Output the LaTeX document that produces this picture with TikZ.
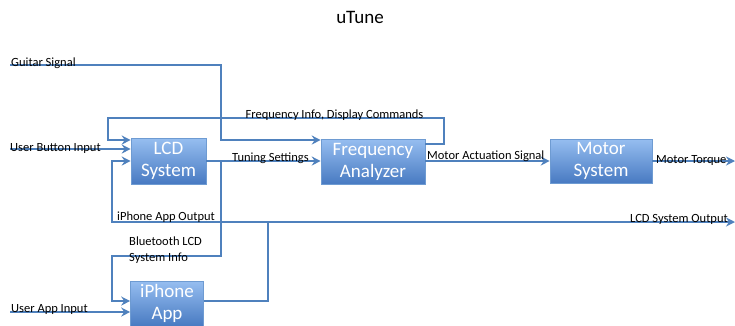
\documentclass[tikz,border=0pt]{standalone}
\usepackage{fontspec}
\setmainfont{Carlito}
\usetikzlibrary{arrows.meta,calc}
\definecolor{lineblue}{RGB}{79,129,189}
\definecolor{boxtop}{RGB}{150,190,240}
\definecolor{boxbot}{RGB}{72,122,194}
\definecolor{boxedge}{RGB}{110,155,210}
\tikzset{
  blk/.style={rectangle, draw=boxedge, line width=0.6pt, top color=boxtop, bottom color=boxbot,
    text=white, font=\fontsize{19}{22}\selectfont, align=center, inner sep=0pt},
  conn/.style={draw=lineblue, line width=1.8pt},
  arr/.style={conn, -{Stealth[length=9pt,width=9pt,inset=3pt]}},
  lbl/.style={font=\fontsize{12.5}{16}\selectfont, inner sep=0pt, text=black}
}
\begin{document}
\begin{tikzpicture}[x=1pt,y=-1pt]
\useasboundingbox (0,0) rectangle (735,325);
\node[font=\fontsize{19}{22}\selectfont] (title) at (360,17) {uTune};
% blocks
\node[blk, minimum width=75pt, minimum height=46pt] (lcd) at (168.5,161) {LCD\\System};
\node[blk, minimum width=104pt, minimum height=45pt] (fa) at (373,161.5) {Frequency\\Analyzer};
\node[blk, minimum width=102pt, minimum height=44pt] (motor) at (601,161) {Motor\\System};
\node[blk, minimum width=73pt, minimum height=45pt] (iphone) at (167,303.5) {iPhone\\App};
% coordinates
\coordinate (gin) at (10,65);
\coordinate (gc) at (221,140);
\coordinate (fy) at (0,144);
\coordinate (fr) at (444,118);
\coordinate (fl) at (108,140);
\coordinate (ubi) at (10,149);
\coordinate (hj) at (268,222);
\coordinate (hl) at (112,161);
\coordinate (iy) at (0,301);
\coordinate (lso) at (735,222);
\coordinate (bt) at (221,256);
\coordinate (bl) at (112,301);
\coordinate (mt) at (735,161);
\coordinate (uai) at (10,312);
% connectors
\draw[arr] (gin) -| (gc) -- (gc -| fa.west);
\draw[arr] (fa.east |- fy) -| (fr) -| (fl) -- (fl -| lcd.west);
\draw[arr] (ubi) -- (ubi -| lcd.west);
\draw[arr] (lcd.east) -- (fa.west |- lcd.east);
\draw[arr] (iphone.east |- iy) -| (hj) -| (hl) -- (hl -| lcd.west);
\draw[arr] (hj) -- (lso);
\draw[arr] (221,161) |- (bt) -| (bl) -- (bl -| iphone.west);
\draw[arr] (fa.east |- motor.west) -- (motor.west);
\draw[arr] (motor.east) -- (mt);
\draw[arr] (uai) -- (uai -| iphone.west);
% labels
\node[lbl, anchor=base west] (l1) at (11,66) {Guitar Signal};
\node[lbl, anchor=base west] (l2) at (10,151) {User Button Input};
\node[lbl, anchor=base] (l3) at (334.5,118) {Frequency Info, Display Commands};
\node[lbl, anchor=base west] (l4) at (232,161) {Tuning Settings};
\node[lbl, anchor=base west] (l5) at (427,159) {Motor Actuation Signal};
\node[lbl, anchor=base west] (l6) at (656,163) {Motor Torque};
\node[lbl, anchor=base east] (l7) at (728,222) {LCD System Output};
\node[lbl, anchor=base west] (l8) at (117,220) {iPhone App Output};
\node[lbl, anchor=north west, align=left] (l9) at (129,237) {Bluetooth LCD\\System Info};
\node[lbl, anchor=base west] (l10) at (11,312) {User App Input};
\end{tikzpicture}
\end{document}
